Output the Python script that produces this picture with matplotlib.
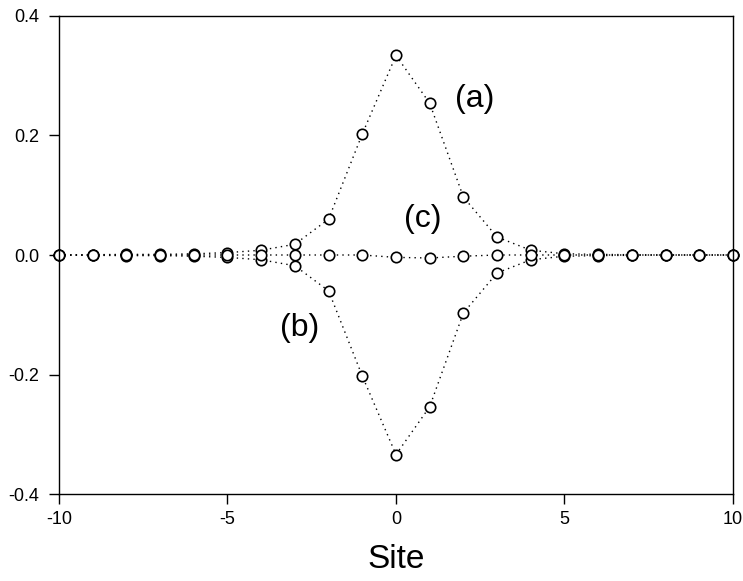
import matplotlib
matplotlib.use('Agg')
import matplotlib.pyplot as plt

plt.rcParams['font.family'] = ['Liberation Sans', 'DejaVu Sans']

site = list(range(-10, 11))
curve_a = [0.0, 0.0005, 0.001, 0.001, 0.002, 0.004, 0.008, 0.018, 0.060, 0.2025, 0.334,
           0.254, 0.097, 0.030, 0.008, 0.002, 0.001, 0.0005, 0.0, 0.0, 0.0]
curve_b = [-v for v in curve_a]
curve_c = [0.0, 0.0, 0.0, 0.0, 0.0, 0.0, 0.0, 0.0, 0.0, 0.0, -0.004,
           -0.005, -0.002, 0.0, 0.0, 0.0, 0.0, 0.0, 0.0, 0.0, 0.0]

labels = ['(a)', '(b)', '(c)']
label_xy = [(2.35, 0.261), (-2.85, -0.122), (0.8, 0.060)]

fig = plt.figure(figsize=(7.43, 5.81), dpi=100)
ax = fig.add_axes([0.0794, 0.1497, 0.9071, 0.8228])

for y in (curve_a, curve_b, curve_c):
    ax.plot(site, y, linestyle=(0, (1, 3)), color='black', linewidth=1.0,
            marker='o', markersize=7.5, markerfacecolor='white',
            markeredgecolor='black', markeredgewidth=1.2, clip_on=False)

for t, (x, y) in zip(labels, label_xy):
    ax.text(x, y, t, fontsize=23, ha='center', va='center')

ax.set_xlim(-10, 10)
ax.set_ylim(-0.4, 0.4)
ax.set_xticks([-10, -5, 0, 5, 10])
ax.set_xticklabels(['-10', '-5', '0', '5', '10'])
ax.set_yticks([-0.4, -0.2, 0.0, 0.2, 0.4])
ax.set_yticklabels(['-0.4', '-0.2', '0.0', '0.2', '0.4'])
ax.tick_params(direction='out', length=7, width=1, labelsize=13, top=False, right=False)
ax.tick_params(axis='x', pad=5)
ax.tick_params(axis='y', pad=7)
ax.set_xlabel('Site', fontsize=24, va='center')
ax.xaxis.set_label_coords(0.5, -0.136)
for s in ax.spines.values():
    s.set_linewidth(1)

fig.savefig('out.png', dpi=100)
